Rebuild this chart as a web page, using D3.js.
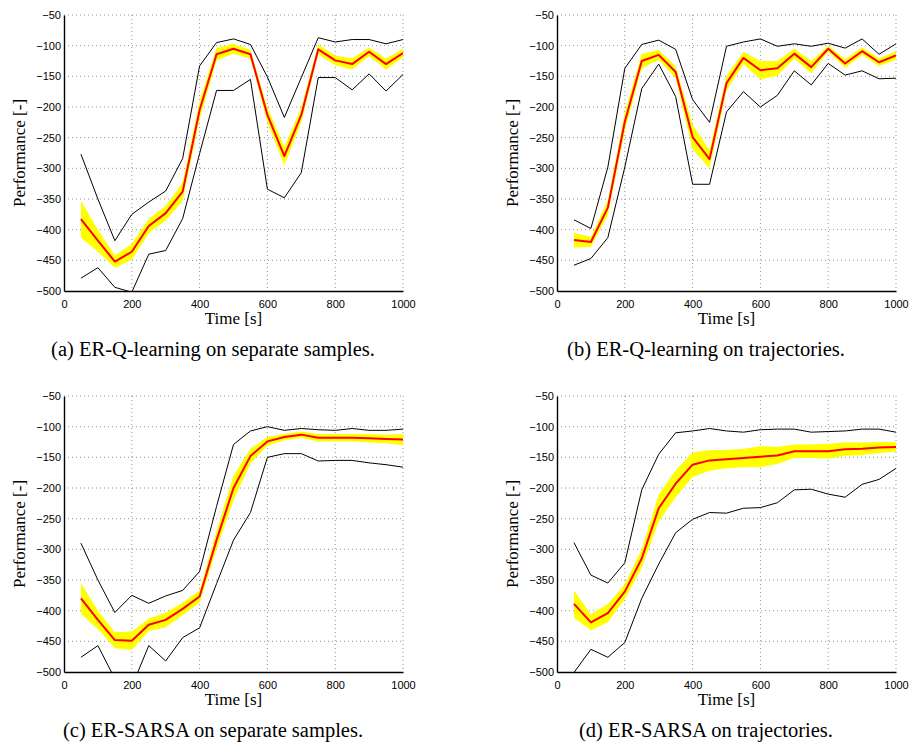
<!DOCTYPE html>
<html>
<head>
<meta charset="utf-8">
<script src="https://cdn.jsdelivr.net/npm/d3@7"></script>
<style>
  body { margin: 0; background: #fff; }
  svg { display: block; }
</style>
</head>
<body>
<div id="container"></div>
<script>
// time points (s)
const time = [50, 100, 150, 200, 250, 300, 350, 400, 450, 500, 550, 600, 650, 700, 750, 800, 850, 900, 950, 1000];

// (a) ER-Q-learning on separate samples
const meanA = [-383, -418, -452, -436, -394, -373, -338, -205, -114, -105, -114, -213, -280, -213, -106, -124, -130, -110, -130, -112];
const bandA = [30, 18, 10, 13, 12, 12, 15, 15, 10, 8, 7, 12, 15, 12, 8, 8, 9, 7, 9, 7];
const maxA = [-277, -350, -418, -375, -355, -337, -284, -133, -95, -89, -98, -151, -217, -152, -87, -94, -90, -90, -97, -90];
const minA = [-479, -462, -494, -502, -440, -434, -382, -276, -173, -173, -155, -334, -348, -307, -152, -152, -172, -146, -174, -147];

// (b) ER-Q-learning on trajectories
const meanB = [-417, -420, -364, -224, -125, -115, -143, -249, -285, -161, -120, -140, -137, -113, -135, -105, -129, -109, -127, -116];
const bandB = [12, 8, 12, 15, 12, 8, 10, 20, 15, 12, 10, 15, 12, 8, 10, 5, 7, 6, 6, 7];
const maxB = [-384, -398, -298, -137, -98, -91, -106, -188, -225, -101, -94, -89, -101, -97, -101, -96, -104, -89, -114, -97];
const minB = [-458, -447, -413, -298, -170, -130, -183, -326, -326, -208, -175, -200, -181, -141, -164, -129, -148, -141, -154, -153];

// (c) ER-SARSA on separate samples
const meanC = [-380, -415, -448, -449, -423, -415, -397, -377, -285, -200, -148, -124, -117, -113, -118, -118, -118, -119, -120, -121];
const bandC = [25, 15, 13, 15, 10, 12, 10, 10, 15, 20, 12, 7, 5, 5, 6, 6, 6, 7, 7, 9];
const maxC = [-290, -350, -403, -375, -388, -376, -367, -336, -230, -129, -107, -100, -106, -103, -105, -106, -103, -106, -106, -104];
const minC = [-476, -457, -511, -524, -457, -482, -444, -428, -356, -285, -240, -150, -144, -144, -156, -155, -155, -159, -162, -166];

// (d) ER-SARSA on trajectories
const meanD = [-389, -419, -404, -369, -315, -233, -193, -162, -155, -153, -151, -149, -147, -140, -140, -140, -137, -136, -134, -133];
const bandD = [22, 13, 15, 12, 15, 22, 22, 20, 17, 15, 15, 17, 14, 11, 11, 12, 11, 10, 9, 8];
const maxD = [-289, -342, -355, -322, -203, -145, -110, -107, -103, -107, -109, -105, -104, -104, -109, -108, -107, -104, -104, -109];
const minD = [-501, -463, -476, -452, -380, -324, -273, -251, -240, -241, -233, -232, -224, -203, -202, -210, -215, -194, -186, -168];

const xTicks = [0, 200, 400, 600, 800, 1000];
const yTicks = [-500, -450, -400, -350, -300, -250, -200, -150, -100, -50];

const panels = [
  {id: "a", caption: "(a) ER-Q-learning on separate samples.", mean: meanA, band: bandA, max: maxA, min: minA, left: 64, top: 15},
  {id: "b", caption: "(b) ER-Q-learning on trajectories.", mean: meanB, band: bandB, max: maxB, min: minB, left: 557, top: 15},
  {id: "c", caption: "(c) ER-SARSA on separate samples.", mean: meanC, band: bandC, max: maxC, min: minC, left: 64, top: 396},
  {id: "d", caption: "(d) ER-SARSA on trajectories.", mean: meanD, band: bandD, max: maxD, min: minD, left: 557, top: 396}
];

const width = 909, height = 744;
const plotW = 339, plotH = 276;
const serif = "Liberation Serif, Times New Roman, serif";
const sans = "Liberation Sans, Arial, sans-serif";

const svg = d3.select("#container").append("svg")
  .attr("width", width)
  .attr("height", height)
  .attr("viewBox", [0, 0, width, height]);

panels.forEach(p => {
  const x = d3.scaleLinear().domain([0, 1000]).range([0, plotW]);
  const y = d3.scaleLinear().domain([-500, -50]).range([plotH, 0]);

  const g = svg.append("g").attr("transform", `translate(${p.left},${p.top})`);

  g.append("clipPath").attr("id", "clip-" + p.id)
    .append("rect").attr("width", plotW).attr("height", plotH);

  // grid
  const grid = g.append("g")
    .attr("stroke", "#777")
    .attr("stroke-width", 0.8)
    .attr("stroke-dasharray", "1,3");
  grid.selectAll(".gx").data(xTicks.slice(1)).join("line")
    .attr("x1", d => x(d)).attr("x2", d => x(d))
    .attr("y1", 0).attr("y2", plotH);
  grid.selectAll(".gy").data(yTicks.slice(1)).join("line")
    .attr("x1", 0).attr("x2", plotW)
    .attr("y1", d => y(d)).attr("y2", d => y(d));

  const pts = time.map((t, i) => ({t, m: p.mean[i], b: p.band[i], hi: p.max[i], lo: p.min[i]}));
  const plot = g.append("g").attr("clip-path", `url(#clip-${p.id})`);

  plot.append("path")
    .datum(pts)
    .attr("fill", "#ffff00")
    .attr("d", d3.area().x(d => x(d.t)).y0(d => y(d.m - d.b)).y1(d => y(d.m + d.b)));

  const line = key => d3.line().x(d => x(d.t)).y(d => y(d[key]));
  ["hi", "lo"].forEach(k => {
    plot.append("path").datum(pts)
      .attr("fill", "none").attr("stroke", "#000").attr("stroke-width", 1)
      .attr("d", line(k));
  });
  plot.append("path").datum(pts)
    .attr("fill", "none").attr("stroke", "#ff0000").attr("stroke-width", 2)
    .attr("stroke-linejoin", "round")
    .attr("d", line("m"));

  // axes
  g.append("g")
    .attr("transform", `translate(0,${plotH})`)
    .call(d3.axisBottom(x).tickValues(xTicks).tickSize(0).tickPadding(9).tickFormat(d3.format("d")))
    .call(a => a.select(".domain").attr("stroke-width", 1.4))
    .call(a => a.selectAll("text").attr("font-family", sans).attr("font-size", 11).attr("fill", "#000"));

  g.append("g")
    .call(d3.axisLeft(y).tickValues(yTicks).tickSize(0).tickPadding(3).tickFormat(d => "\u2212" + Math.abs(d)))
    .call(a => a.select(".domain").attr("stroke-width", 1.4))
    .call(a => a.selectAll("text").attr("font-family", sans).attr("font-size", 11).attr("fill", "#000"));

  // labels
  g.append("text")
    .attr("x", plotW / 2).attr("y", plotH + 33)
    .attr("text-anchor", "middle")
    .attr("font-family", serif)
    .attr("font-size", 17)
    .text("Time [s]");

  g.append("text")
    .attr("transform", `translate(-39,${plotH / 2}) rotate(-90)`)
    .attr("text-anchor", "middle")
    .attr("font-family", serif)
    .attr("font-size", 17)
    .text("Performance [-]");

  g.append("text")
    .attr("x", 149).attr("y", plotH + 65)
    .attr("text-anchor", "middle")
    .attr("font-family", serif)
    .attr("font-size", 20.5)
    .text(p.caption);
});
</script>
</body>
</html>
